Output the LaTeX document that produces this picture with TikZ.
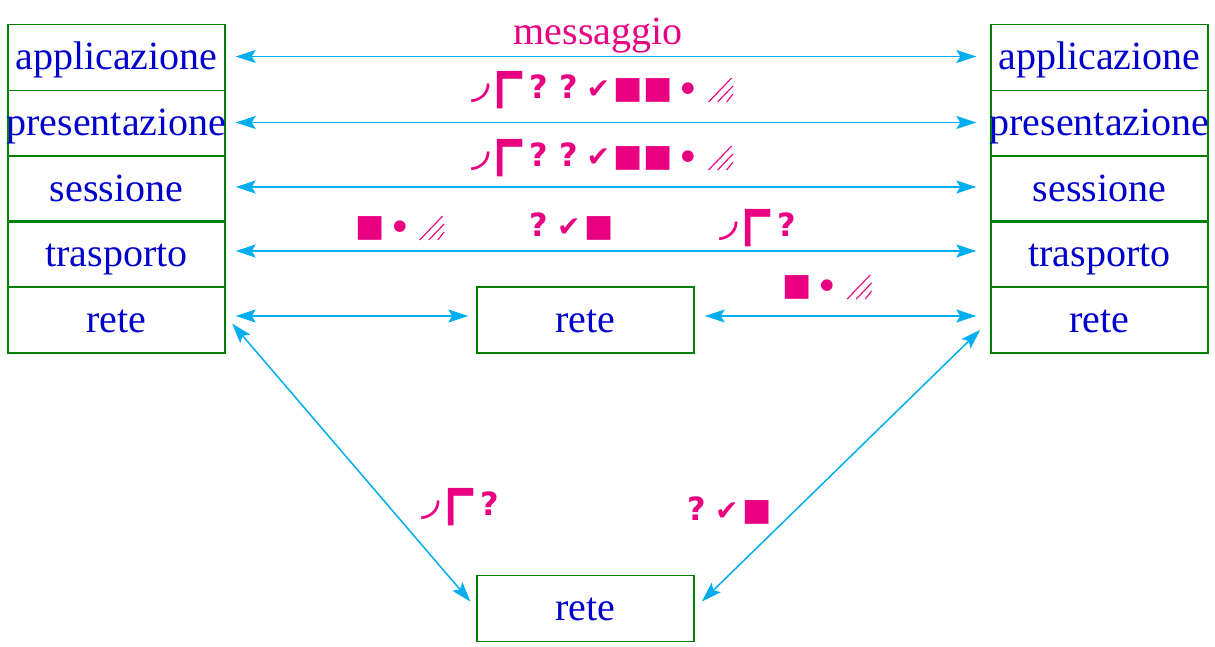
\documentclass[tikz,border=0pt]{standalone}
\usepackage{fontspec}
\setmainfont{Liberation Serif}
\newfontfamily\symf{DejaVu Sans}
\usetikzlibrary{arrows.meta}
\definecolor{txtblue}{RGB}{0,0,204}
\definecolor{boxgreen}{RGB}{0,128,0}
\definecolor{arrcyan}{RGB}{0,174,239}
\definecolor{pinkmag}{RGB}{232,0,128}
\newcommand{\cellb}[2]{\makebox[#1][c]{#2}}
\newcommand{\sq}{{\fontsize{15.5pt}{15pt}\selectfont ■}}
\newcommand{\qm}{{\fontsize{16pt}{16pt}\selectfont\bfseries ?}}
\newcommand{\ck}{{\fontsize{14pt}{14pt}\selectfont ✔}}
\newcommand{\bl}{\raisebox{-2.5pt}{\fontsize{20pt}{16pt}\selectfont •}}
\newcommand{\hatch}{\tikz[x=1pt,y=1pt,baseline=2pt]{\draw[pinkmag,line width=0.55pt] (0,0)--(11.5,12) (4.5,0)--(12.2,8) (9,0)--(12.2,4);}}
\newcommand{\arcg}{\raisebox{1pt}{\fontsize{24pt}{16pt}\selectfont ◞}}
\newcommand{\crn}{\raisebox{-29pt}{\scalebox{1}[1.4]{\fontsize{40pt}{16pt}\selectfont ⌜}}}
\begin{document}
\begin{tikzpicture}[x=0.5pt,y=-0.5pt,
  layer/.style={draw=boxgreen,line width=0.7pt,minimum width=108.5pt,minimum height=33pt,
    inner sep=0pt,text=txtblue,font=\fontsize{20pt}{22pt}\selectfont,
    text height=16pt,text depth=4pt},
  link/.style={draw=arrcyan,line width=0.75pt,
    {Stealth[length=10pt,width=6.5pt,inset=2pt]}-{Stealth[length=10pt,width=6.5pt,inset=2pt]}},
  sym/.style={text=pinkmag,inner sep=0pt,font=\symf,anchor=base west}]
\useasboundingbox (0,0) rectangle (1215,647);
% left stack
\node[layer] (L1) at (116.5,57.5) {\makebox[0pt]{applicazione}};
\node[layer] (L2) at (116.5,123.5) {\makebox[0pt]{presentazione}};
\node[layer] (L3) at (116.5,189) {\makebox[0pt]{sessione}};
\node[layer] (L4) at (116.5,254) {\makebox[0pt]{trasporto}};
\node[layer] (L5) at (116.5,320) {\makebox[0pt]{rete}};
% right stack
\node[layer] (R1) at (1099.5,57.5) {\makebox[0pt]{applicazione}};
\node[layer] (R2) at (1099.5,123.5) {\makebox[0pt]{presentazione}};
\node[layer] (R3) at (1099.5,189) {\makebox[0pt]{sessione}};
\node[layer] (R4) at (1099.5,254) {\makebox[0pt]{trasporto}};
\node[layer] (R5) at (1099.5,320) {\makebox[0pt]{rete}};
% intermediate nodes
\node[layer] (M) at (585.5,320) {\makebox[0pt]{rete}};
\node[layer] (B) at (585.5,608.5) {\makebox[0pt]{rete}};
% connectors
\draw[link,shorten <=5pt,shorten >=7pt] ([yshift=0.5pt]L1.east) -- ([yshift=0.5pt]R1.west);
\draw[link,shorten <=5pt,shorten >=7pt] ([yshift=0.5pt]L2.east) -- ([yshift=0.5pt]R2.west);
\draw[link,shorten <=5pt,shorten >=7pt] ([yshift=1pt]L3.east) -- ([yshift=1pt]R3.west);
\draw[link,shorten <=5pt,shorten >=7pt] ([yshift=1.5pt]L4.east) -- ([yshift=1.5pt]R4.west);
\draw[link,shorten <=5pt,shorten >=4pt] ([yshift=2pt]L5.east) -- ([yshift=2pt]M.west);
\draw[link,shorten <=5pt,shorten >=7pt] ([yshift=2pt]M.east) -- ([yshift=2pt]R5.west);
\draw[link,shorten <=5pt,shorten >=4.5pt] ([yshift=2pt]L5.east) -- (B.west);
\draw[link,shorten <=7pt,shorten >=5pt] (R5.west) -- (B.east);
% labels
\node[text=pinkmag,font=\fontsize{20pt}{22pt}\selectfont,anchor=base,inner sep=0pt] (msg) at (598,45) {messaggio};
\node[sym] (s1) at (466,98) {\cellb{14.25pt}{\arcg}\cellb{14.6pt}{\crn}\cellb{15.1pt}{\qm}\cellb{14.6pt}{\qm}\cellb{14.9pt}{\ck}\cellb{15pt}{\sq}\cellb{14.75pt}{\sq}\cellb{15.75pt}{\bl}\cellb{16.5pt}{\hatch}};
\node[sym] (s2) at (466,166) {\cellb{14.25pt}{\arcg}\cellb{14.6pt}{\crn}\cellb{15.1pt}{\qm}\cellb{14.6pt}{\qm}\cellb{14.9pt}{\ck}\cellb{15pt}{\sq}\cellb{14.75pt}{\sq}\cellb{15.75pt}{\bl}\cellb{16.5pt}{\hatch}};
\node[sym] (s3) at (354.5,236) {\cellb{15pt}{\sq}\cellb{15pt}{\bl}\cellb{17pt}{\hatch}};
\node[sym] (s4) at (523.5,236) {\cellb{15pt}{\qm}\cellb{15pt}{\ck}\cellb{15pt}{\sq}};
\node[sym] (s5) at (714,236) {\cellb{14.25pt}{\arcg}\cellb{14.6pt}{\crn}\cellb{15pt}{\qm}};
\node[sym] (s6) at (782,295) {\cellb{15pt}{\sq}\cellb{15pt}{\bl}\cellb{17pt}{\hatch}};
\node[sym] (s7) at (416.5,515) {\cellb{14.25pt}{\arcg}\cellb{14.6pt}{\crn}\cellb{15pt}{\qm}};
\node[sym] (s8) at (681.5,520) {\cellb{15pt}{\qm}\cellb{15pt}{\ck}\cellb{15pt}{\sq}};
\end{tikzpicture}
\end{document}
